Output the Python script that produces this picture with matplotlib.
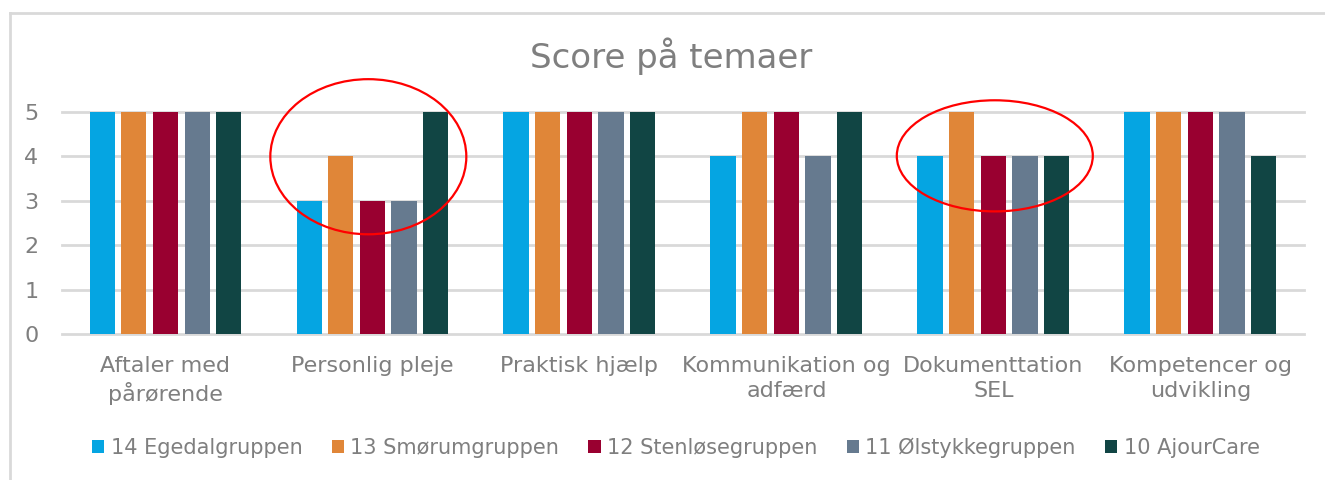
import matplotlib
matplotlib.use('Agg')
import matplotlib.pyplot as plt
from matplotlib.patches import Ellipse
from matplotlib.lines import Line2D
import numpy as np

# Categories and series values
categories = ['Aftaler med\npårørende', 'Personlig pleje', 'Praktisk hjælp',
              'Kommunikation og\nadfærd', 'Dokumenttation\nSEL', 'Kompetencer og\nudvikling']
series_names = ['14 Egedalgruppen', '13 Smørumgruppen', '12 Stenløsegruppen',
                '11 Ølstykkegruppen', '10 AjourCare']
egedal = [5, 3, 5, 4, 4, 5]
smorum = [5, 4, 5, 5, 5, 5]
stenlose = [5, 3, 5, 5, 4, 5]
olstykke = [5, 3, 5, 4, 4, 5]
ajourcare = [5, 5, 5, 5, 4, 4]
series_values = [egedal, smorum, stenlose, olstykke, ajourcare]
colors = ['#05A5E2', '#E08638', '#990030', '#667A8F', '#114544']

text_color = '#7f7f7f'
plt.rcParams['font.family'] = ['DejaVu Sans']

fig = plt.figure(figsize=(13.25, 4.8), dpi=100)
ax = fig.add_axes([0.0468, 0.304, 0.9372, 0.463])

x = np.arange(len(categories))
pitch = 0.153
bar_w = 0.122
for i, (name, vals, col) in enumerate(zip(series_names, series_values, colors)):
    ax.bar(x + (i - 2) * pitch, vals, width=bar_w, color=col, label=name, zorder=3)

ax.set_xlim(-0.5, len(categories) - 0.5)
ax.set_ylim(0, 5)
ax.set_yticks(range(6))
ax.yaxis.grid(True, color='#d9d9d9', linewidth=2, zorder=0)
for gl in ax.get_ygridlines():
    gl.set_clip_on(False)
ax.set_axisbelow(True)
for s in ax.spines.values():
    s.set_visible(False)
ax.tick_params(axis='both', length=0, labelsize=16, colors=text_color)
ax.tick_params(axis='y', pad=17)
ax.tick_params(axis='x', pad=16)
ax.set_xticks(x)
ax.set_xticklabels(categories, linespacing=1.3)

# Red ellipses highlighting groups
ax.add_patch(Ellipse((0.98, 3.99), 0.947, 3.49, fill=False, edgecolor='red',
                     linewidth=1.6, clip_on=False, zorder=5))
ax.add_patch(Ellipse((4.007, 4.01), 0.947, 2.5, fill=False, edgecolor='red',
                     linewidth=1.6, clip_on=False, zorder=5))

fig.text(0.5064, 0.882, 'Score på temaer', ha='center', va='center',
         fontsize=24.5, color=text_color)

leg = fig.legend(loc='center', bbox_to_anchor=(0.51, 0.068), ncol=5, frameon=False,
                 fontsize=15, handlelength=0.6, handleheight=0.6, handletextpad=0.3,
                 columnspacing=1.4)
for t in leg.get_texts():
    t.set_color(text_color)

# Chart border: only left and top edges are inside the picture
bx, by = 10 / 1325, 1 - 13 / 480
fig.add_artist(Line2D([bx, bx], [0, by], transform=fig.transFigure,
                      color='#d9d9d9', linewidth=2))
fig.add_artist(Line2D([bx, 1], [by, by], transform=fig.transFigure,
                      color='#d9d9d9', linewidth=2))

fig.savefig('out.png', dpi=100)
